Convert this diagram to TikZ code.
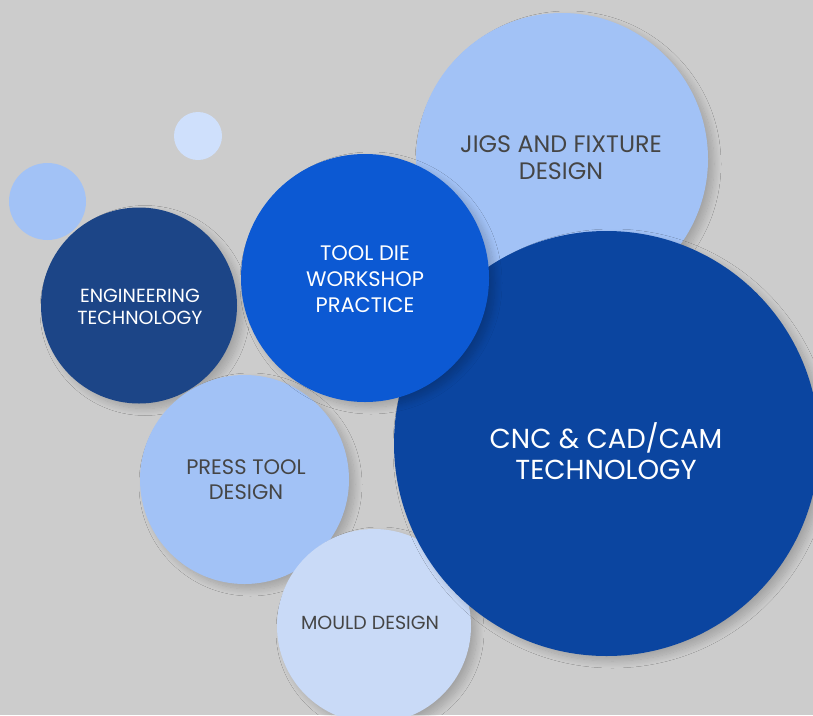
\documentclass[tikz,border=0pt]{standalone}
\usepackage{fontspec}
\setmainfont{Poppins}
\usetikzlibrary{shadows.blur}
\definecolor{bg}{HTML}{CCCCCC}
\definecolor{lightblue}{HTML}{A2C2F6}
\definecolor{paleblue}{HTML}{C9DAF7}
\definecolor{palest}{HTML}{CFE0FC}
\definecolor{engblue}{HTML}{1C4587}
\definecolor{toolblue}{HTML}{0C59D3}
\definecolor{cncblue}{HTML}{0B45A0}
\definecolor{darktext}{HTML}{454545}
\begin{document}
\begin{tikzpicture}[x=1pt,y=-1pt,
  bub/.style={circle, minimum size=#1, inner sep=0pt, align=center},
  shad/.style={blur shadow={shadow xshift=6pt, shadow yshift=-5pt, shadow opacity=20, shadow blur radius=7pt, shadow blur steps=14}},
  lighttext/.style={text=darktext, align=center, inner sep=0pt},
  darkbg/.style={text=white, align=center, inner sep=0pt}]
\fill[bg] (0,0) rectangle (813,715);
\useasboundingbox (0,0) rectangle (813,715);
\node[bub=48pt, fill=palest] (s1) at (198,136) {};
\node[bub=77pt, fill=lightblue] (s2) at (47.5,201.5) {};
\node[bub=196pt, fill=engblue, shad] (eng) at (139,305.5) {};
\node[darkbg, font=\fontsize{19}{22}\selectfont] (engt) at (140,306.5) {ENGINEERING\\TECHNOLOGY};
\node[bub=209pt, fill=lightblue, shad] (press) at (244.5,479.5) {};
\node[lighttext, font=\fontsize{21}{25.6}\selectfont] (presst) at (246,479.5) {PRESS TOOL\\DESIGN};
\node[bub=194pt, fill=paleblue, shad] (mould) at (374,626) {};
\node[lighttext, font=\fontsize{19}{20}\selectfont, anchor=base] (mouldt) at (370,629) {MOULD DESIGN};
\node[bub=292pt, fill=lightblue, shad] (jigs) at (562,159) {};
\node[lighttext, font=\fontsize{23.8}{27}\selectfont] (jigst) at (561,158) {JIGS AND FIXTURE\\DESIGN};
\node[bub=425pt, fill=cncblue, shad] (cnc) at (606.5,443.5) {};
\node[darkbg, font=\fontsize{27.5}{31}\selectfont] (cnct) at (606,451) {CNC \& CAD/CAM\\TECHNOLOGY};
\node[bub=248pt, fill=toolblue, shad] (tool) at (365,278) {};
\node[darkbg, font=\fontsize{21}{26}\selectfont] (toolt) at (365,279) {TOOL DIE\\WORKSHOP\\PRACTICE};
\end{tikzpicture}
\end{document}
